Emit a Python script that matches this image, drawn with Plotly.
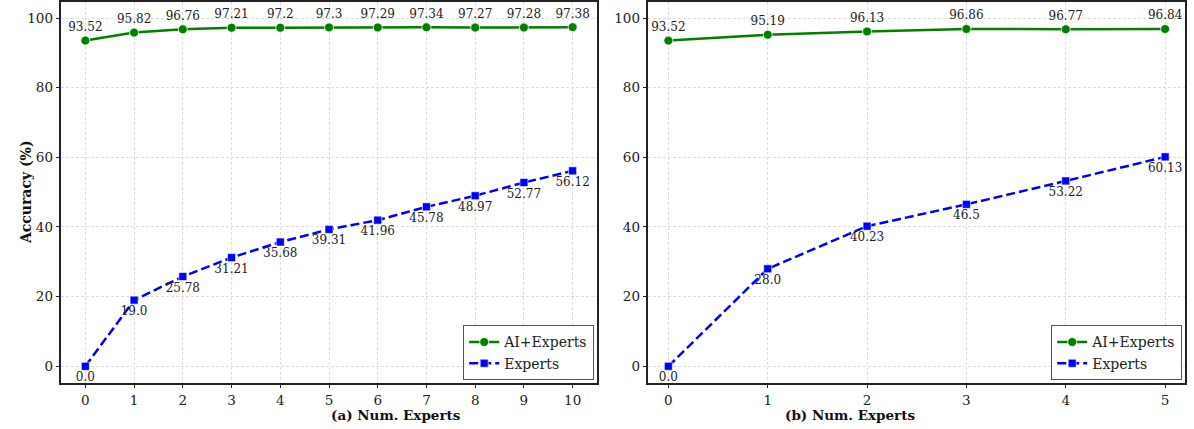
import plotly.graph_objects as go

# Panel (a)
x_a = [0, 1, 2, 3, 4, 5, 6, 7, 8, 9, 10]
ai_a = [93.52, 95.82, 96.76, 97.21, 97.2, 97.3, 97.29, 97.34, 97.27, 97.28, 97.38]
ex_a = [0.0, 19.0, 25.78, 31.21, 35.68, 39.31, 41.96, 45.78, 48.97, 52.77, 56.12]
# Panel (b)
x_b = [0, 1, 2, 3, 4, 5]
ai_b = [93.52, 95.19, 96.13, 96.86, 96.77, 96.84]
ex_b = [0.0, 28.0, 40.23, 46.5, 53.22, 60.13]

y_ticks = [0, 20, 40, 60, 80, 100]
FONT = "DejaVu Serif"
GREEN = "#008000"
BLUE = "#0000FF"

fig = go.Figure()

def fmt(v):
    return repr(float(v))

def add_panel(xs, ai, ex, xa, ya, legend):
    fig.add_trace(go.Scatter(
        x=xs, y=ai, mode="lines+markers+text", name="AI+Experts",
        text=[fmt(v) for v in ai], textposition="top center",
        textfont=dict(family=FONT, size=12, color="#222"),
        line=dict(color=GREEN, width=2.5),
        marker=dict(symbol="circle", size=9, color=GREEN, line=dict(color="white", width=0.8)),
        xaxis=xa, yaxis=ya, legend=legend, cliponaxis=False))
    fig.add_trace(go.Scatter(
        x=xs, y=ex, mode="lines+markers+text", name="Experts",
        text=[fmt(v) for v in ex], textposition="bottom center",
        textfont=dict(family=FONT, size=12, color="#222"),
        line=dict(color=BLUE, width=2.5, dash="9px,4px"),
        marker=dict(symbol="square", size=8, color=BLUE, line=dict(color="white", width=0.6)),
        xaxis=xa, yaxis=ya, legend=legend, cliponaxis=False))

add_panel(x_a, ai_a, ex_a, "x", "y", "legend")
add_panel(x_b, ai_b, ex_b, "x2", "y2", "legend2")

W, H = 1194, 429
ydom = [1 - 383 / H, 1.0]
axis_common = dict(showline=True, linecolor="#222", linewidth=1.5, mirror=True,
                   ticks="outside", ticklen=3.5, tickcolor="#222",
                   showgrid=True, gridcolor="#dedede", griddash="3px,2px", gridwidth=0.8,
                   zeroline=False, tickfont=dict(family=FONT, size=13.5, color="#222"))

fig.update_layout(
    width=W, height=H, margin=dict(l=0, r=0, t=0, b=0),
    plot_bgcolor="white", paper_bgcolor="white",
    font=dict(family=FONT),
    xaxis=dict(domain=[61 / W, 597 / W], range=[-0.5, 10.5], tickvals=x_a, anchor="y", **axis_common),
    yaxis=dict(domain=ydom, range=[-4.86, 104.6], tickvals=y_ticks, anchor="x", **axis_common),
    xaxis2=dict(domain=[648 / W, 1185 / W], range=[-0.205, 5.2], tickvals=x_b, anchor="y2", **axis_common),
    yaxis2=dict(domain=ydom, range=[-4.86, 104.6], tickvals=y_ticks, anchor="x2", **axis_common),
    legend=dict(x=594 / W, y=1 - 380 / H, xanchor="right", yanchor="bottom",
                bgcolor="white", bordercolor="#555", borderwidth=1.2,
                font=dict(family=FONT, size=14, color="#222"), tracegroupgap=0,
                itemwidth=30),
    legend2=dict(x=1182 / W, y=1 - 380 / H, xanchor="right", yanchor="bottom",
                 bgcolor="white", bordercolor="#555", borderwidth=1.2,
                 font=dict(family=FONT, size=14, color="#222"), tracegroupgap=0,
                 itemwidth=30),
    annotations=[
        dict(text="<b>(a) Num. Experts</b>", x=(61 + 597) / 2 / W, y=1 - 415 / H,
             xref="paper", yref="paper", showarrow=False, yanchor="middle",
             font=dict(family=FONT, size=13.5, color="#111")),
        dict(text="<b>(b) Num. Experts</b>", x=(648 + 1185) / 2 / W, y=1 - 415 / H,
             xref="paper", yref="paper", showarrow=False, yanchor="middle",
             font=dict(family=FONT, size=13.5, color="#111")),
        dict(text="<b>Accuracy (%)</b>", x=16 / W, y=1 - 191 / H, textangle=-90,
             xref="paper", yref="paper", showarrow=False,
             font=dict(family=FONT, size=14, color="#111")),
    ],
)

fig.write_html("out.html", config={"displayModeBar": False},
               post_script="document.body.style.margin='0px';document.body.style.overflow='hidden';")
